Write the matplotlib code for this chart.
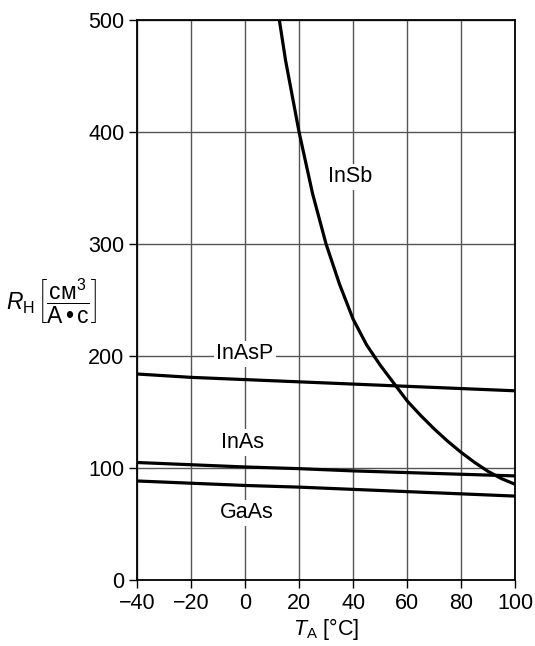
import matplotlib
matplotlib.use("Agg")
import matplotlib.pyplot as plt
import numpy as np

plt.rcParams['font.family'] = ['Liberation Sans', 'DejaVu Sans']
plt.rcParams['mathtext.fontset'] = 'custom'
plt.rcParams['mathtext.rm'] = 'Liberation Sans'
plt.rcParams['mathtext.it'] = 'Liberation Sans:italic'
plt.rcParams['mathtext.bf'] = 'Liberation Sans:bold'

# Hall coefficient vs ambient temperature
t_flat = [-40, -20, 0, 20, 40, 60, 80, 100]
inasp = [184, 181, 179, 177, 175, 173, 171, 169]
inas = [105, 103, 101, 99.5, 97.5, 96, 94.5, 93]
gaas = [88.5, 86.5, 84.5, 83, 81, 79, 77, 75]

t_insb = [12.7, 15, 20, 25, 30, 35, 40, 45, 50, 55, 60, 65, 70, 75, 80, 85, 90, 95, 100]
insb = [500, 464, 400, 345, 300, 264, 233, 210, 192, 176, 160, 147, 135, 124, 114, 105, 97, 90.5, 85.5]

xticks = [-40, -20, 0, 20, 40, 60, 80, 100]
yticks = [0, 100, 200, 300, 400, 500]

fig = plt.figure(figsize=(5.35, 6.46), dpi=100)
ax = fig.add_axes([0.256, 0.102, 0.707, 0.867])

lw = 2.3
ax.plot(t_flat, inasp, color='black', lw=lw, zorder=3)
ax.plot(t_flat, inas, color='black', lw=lw, zorder=3)
ax.plot(t_flat, gaas, color='black', lw=lw, zorder=3)
ax.plot(t_insb, insb, color='black', lw=lw, zorder=3)

ax.set_xlim(-40, 100)
ax.set_ylim(0, 500)
ax.set_xticks(xticks)
ax.set_yticks(yticks)
ax.grid(True, color='#555555', lw=1.0, zorder=1)
ax.set_axisbelow(True)
for s in ax.spines.values():
    s.set_linewidth(1.3)
ax.tick_params(direction='out', length=6, width=1.0, labelsize=15.5, pad=3)

box = dict(facecolor='white', edgecolor='none', pad=2)
fs = 15.5
ax.text(0, 202, 'InAsP', ha='center', va='center', fontsize=fs, bbox=box, zorder=2.5)
ax.text(-1, 123, 'InAs', ha='center', va='center', fontsize=fs, bbox=box, zorder=2.5)
ax.text(0.5, 60, 'GaAs', ha='center', va='center', fontsize=fs, bbox=box, zorder=2.5)
ax.text(39, 360, 'InSb', ha='center', va='center', fontsize=fs, bbox=box, zorder=2.5)

ax.set_xlabel(r'$T_\mathrm{A}$ [°C]', fontsize=15.5, labelpad=2)
ax.set_ylabel(r'$R_\mathrm{H}\,\left[\dfrac{\mathrm{см}^3}{\mathrm{А\,•\,с}}\right]$',
              fontsize=16.5, rotation=0, ha='center', va='center')
ax.yaxis.set_label_coords(-0.226, 0.497)

fig.savefig('out.png', dpi=100)
